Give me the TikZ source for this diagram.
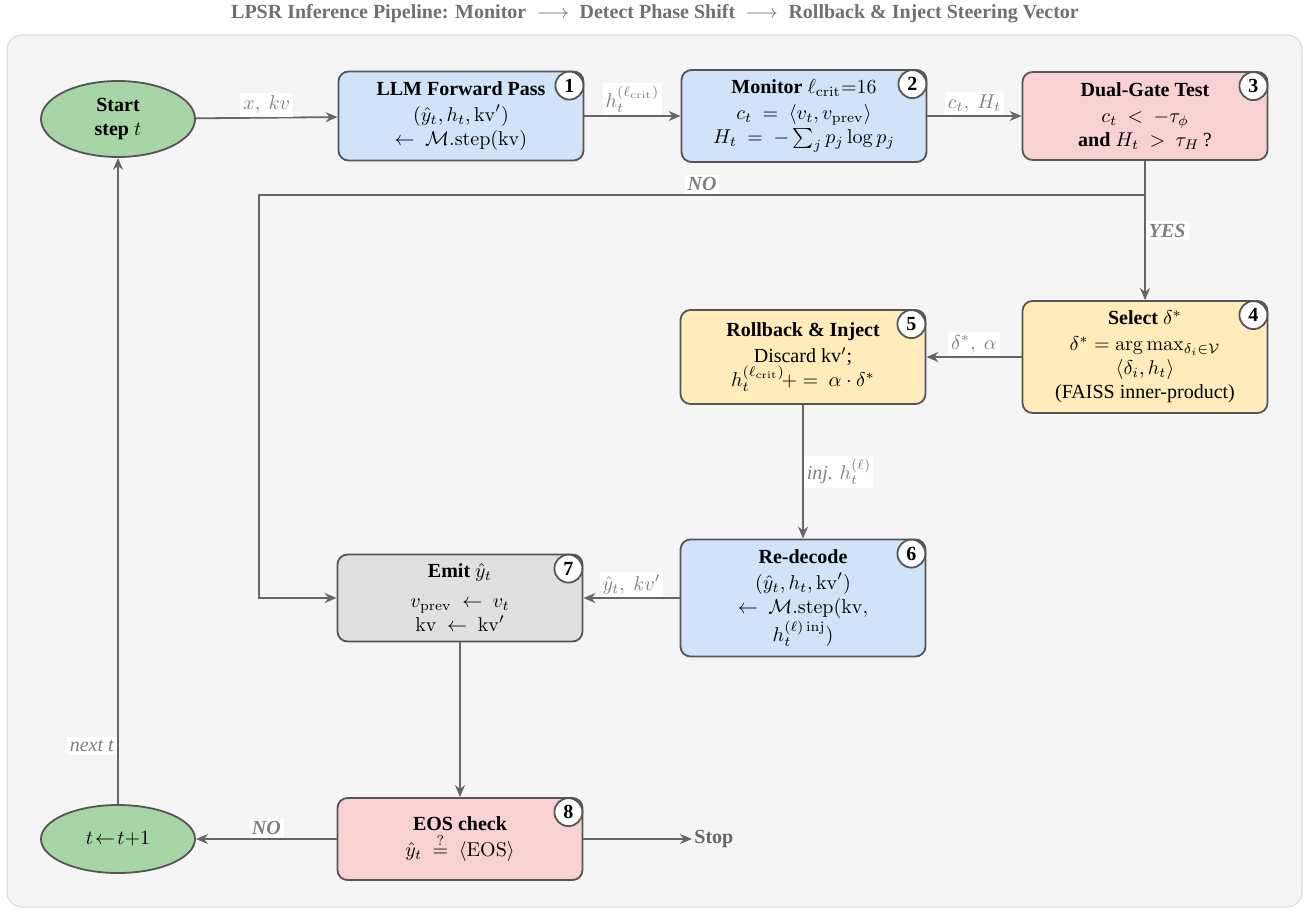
\documentclass[tikz,border=0pt]{standalone}
\usepackage[no-math]{fontspec}
\setmainfont{Liberation Serif}
\usepackage{amsmath,amsfonts}
\usepackage{xcolor}
\usepackage{tikz}
\usetikzlibrary{shapes.geometric,arrows.meta}

\definecolor{bgfill}{RGB}{245,245,245}
\definecolor{bgline}{RGB}{221,221,221}
\definecolor{boxline}{RGB}{85,85,85}
\definecolor{flowgray}{RGB}{102,102,102}
\definecolor{titlegray}{RGB}{112,112,112}
\definecolor{lblgray}{RGB}{128,128,128}
\definecolor{fillblue}{RGB}{208,227,248}
\definecolor{fillred}{RGB}{248,209,211}
\definecolor{fillyellow}{RGB}{255,236,186}
\definecolor{fillgray}{RGB}{224,224,224}
\definecolor{fillgreen}{RGB}{168,213,166}

\begin{document}
\begin{tikzpicture}[x=0.5pt,y=-0.5pt,
    stepbox/.style={draw=boxline,line width=0.9pt,rounded corners=5pt,align=center,
      minimum width=122.5pt,inner sep=3pt},
    endpoint/.style={draw=boxline,line width=0.9pt,ellipse,fill=fillgreen,align=center,
      minimum width=77pt,inner sep=0pt},
    numcirc/.style={draw=boxline,line width=0.9pt,circle,fill=white,inner sep=0pt,
      minimum size=14pt,font=\bfseries},
    flow/.style={draw=flowgray,line width=0.9pt,-{Stealth[length=6pt,width=5pt]}},
    lbl/.style={fill=white,text=lblgray,inner sep=1.5pt}]

    % frame and title
    \useasboundingbox (0,0) rectangle (1309,915);
    \draw[fill=bgfill,draw=bgline,line width=0.6pt,rounded corners=7.5pt] (7,35) rectangle (1302,907);
    \node[text=titlegray,font=\bfseries] (title) at (655,14)
      {LPSR Inference Pipeline: Monitor $\;\longrightarrow\;$ Detect Phase Shift $\;\longrightarrow\;$ Rollback \& Inject Steering Vector};

    % nodes
    \node[endpoint,minimum height=38pt,font=\bfseries] (start) at (118,119) {Start\\step $t$};
    \node[stepbox,fill=fillblue,minimum height=44.5pt] (fwd) at (461,116)
      {\textbf{LLM Forward Pass}\\[1pt]$(\hat{y}_t,h_t,\mathrm{kv}')$\\$\leftarrow\ \mathcal{M}.\mathrm{step}(\mathrm{kv})$};
    \node[stepbox,fill=fillblue,minimum height=46pt] (mon) at (804,116)
      {\textbf{Monitor} $\ell_{\mathrm{crit}}{=}16$\\[1pt]$c_t\ =\ \langle v_t,v_{\mathrm{prev}}\rangle$\\$H_t\ =\ -\sum_j p_j\log p_j$};
    \node[stepbox,fill=fillred,minimum height=44pt] (gate) at (1145,116)
      {\textbf{Dual-Gate Test}\\[1pt]$c_t\ <\ -\tau_\phi$\\\textbf{and} $H_t\ >\ \tau_H$\,?};
    \node[stepbox,fill=fillyellow,minimum height=56pt] (sel) at (1145,357)
      {\textbf{Select} $\delta^*$\\[1pt]$\delta^*=\arg\max_{\delta_i\in\mathcal{V}}$\\$\langle\delta_i,h_t\rangle$\\(FAISS inner-product)};
    \node[stepbox,fill=fillyellow,minimum height=47pt] (inj) at (803,357)
      {\textbf{Rollback \& Inject}\\[1pt]Discard kv$'$;\\$h_t^{(\ell_{\mathrm{crit}})}\!+=\ \alpha\cdot\delta^*$};
    \node[stepbox,fill=fillblue,minimum height=58.5pt] (redec) at (803,598)
      {\textbf{Re-decode}\\[1pt]$(\hat{y}_t,h_t,\mathrm{kv}')$\\$\leftarrow\ \mathcal{M}.\mathrm{step}(\mathrm{kv},$\\$h_t^{(\ell)\,\mathrm{inj}})$};
    \node[stepbox,fill=fillgray,minimum height=43.5pt] (emit) at (460,598)
      {\textbf{Emit} $\hat{y}_t$\\[3pt]$v_{\mathrm{prev}}\ \leftarrow\ v_t$\\$\mathrm{kv}\ \leftarrow\ \mathrm{kv}'$};
    \node[stepbox,fill=fillred,minimum height=41pt] (eos) at (460,839)
      {\textbf{EOS check}\\[1pt]$\hat{y}_t\ \stackrel{?}{=}\ \langle\mathrm{EOS}\rangle$};
    \node[endpoint,minimum height=34pt] (inc) at (118,839) {$t\!\leftarrow\!t{+}1$};
    \node[text=flowgray,font=\bfseries,anchor=west,inner sep=1pt] (stop) at (692,839) {Stop};

    % step numbers
    \node[numcirc] (c1) at ([shift={(-7.5pt,-7.5pt)}]fwd.north east) {1};
    \node[numcirc] (c2) at ([shift={(-7.5pt,-7.5pt)}]mon.north east) {2};
    \node[numcirc] (c3) at ([shift={(-7.5pt,-7.5pt)}]gate.north east) {3};
    \node[numcirc] (c4) at ([shift={(-7.5pt,-7.5pt)}]sel.north east) {4};
    \node[numcirc] (c5) at ([shift={(-7.5pt,-7.5pt)}]inj.north east) {5};
    \node[numcirc] (c6) at ([shift={(-7.5pt,-7.5pt)}]redec.north east) {6};
    \node[numcirc] (c7) at ([shift={(-7.5pt,-7.5pt)}]emit.north east) {7};
    \node[numcirc] (c8) at ([shift={(-7.5pt,-7.5pt)}]eos.north east) {8};

    % connectors
    \coordinate (split) at (1145,195);
    \coordinate (bend) at (259,195);
    \draw[flow] (start) -- node[lbl,above] {$x,\ kv$} (fwd);
    \draw[flow] (fwd) -- node[lbl,above] {$h_t^{(\ell_{\mathrm{crit}})}$} (mon);
    \draw[flow] (mon) -- node[lbl,above] {$c_t,\ H_t$} (gate);
    \draw[flow] (gate) -- node[lbl,right] {\textbf{\textit{YES}}} (sel);
    \draw[flow] (split) -- node[lbl,above] {\textbf{\textit{NO}}} (bend) |- (emit.west);
    \draw[flow] (sel) -- node[lbl,above] {$\delta^*,\ \alpha$} (inj);
    \draw[flow] (inj) -- node[lbl,right] {\textit{inj.} $h_t^{(\ell)}$} (redec);
    \draw[flow] (redec) -- node[lbl,above] {$\hat{y}_t,\ kv'$} (emit);
    \draw[flow] (emit) -- (eos);
    \draw[flow] (eos) -- node[lbl,above] {\textbf{\textit{NO}}} (inc);
    \draw[flow] (eos) -- (stop);
    \draw[flow] (inc) -- node[lbl,left,pos=0.09] {\textit{next t}} (start);
\end{tikzpicture}
\end{document}
